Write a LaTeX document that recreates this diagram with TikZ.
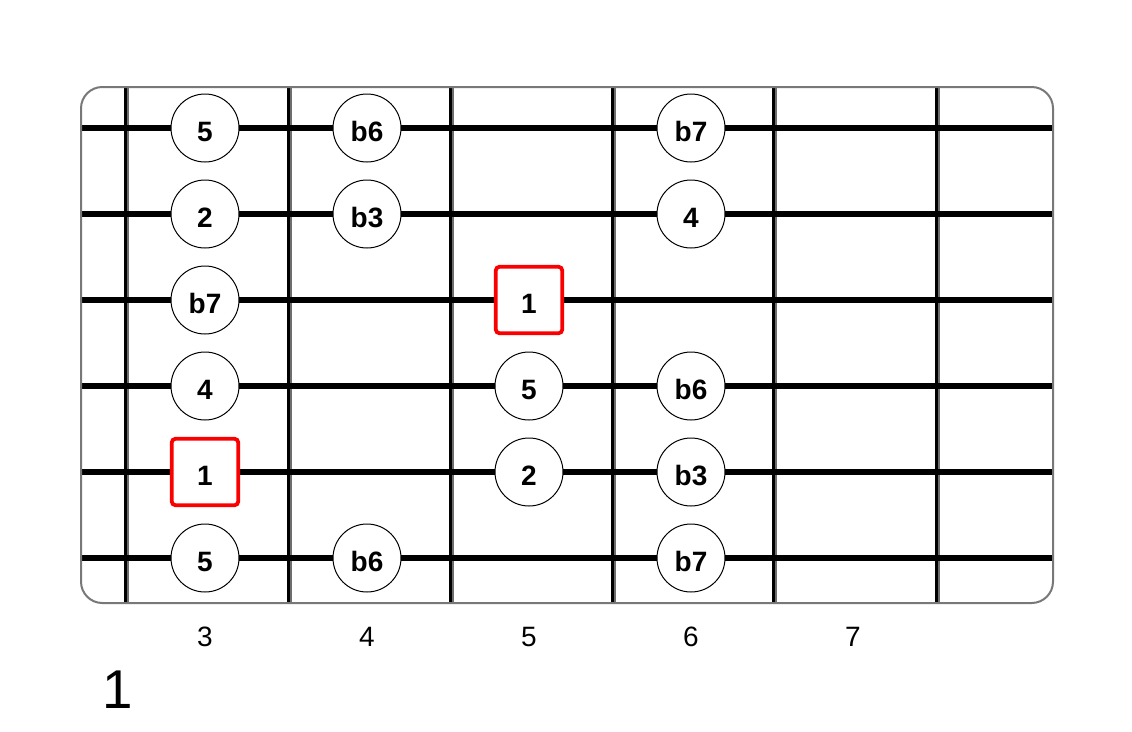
\documentclass[tikz,border=0pt]{standalone}
\usepackage{fontspec}
\setmainfont{Liberation Sans}
\definecolor{bordergray}{RGB}{120,120,120}
\definecolor{fretgray}{RGB}{110,110,110}
\definecolor{rootred}{RGB}{250,0,0}
\begin{document}
\begin{tikzpicture}[x=0.75pt,y=-0.75pt,
  note/.style={circle,draw=black,line width=0.75pt,fill=white,minimum size=51pt,inner sep=0pt,text height=19.5pt,text depth=0pt,font=\fontsize{21}{23}\selectfont\bfseries},
  rootnote/.style={rectangle,rounded corners=3pt,draw=rootred,line width=2.8pt,fill=white,minimum size=50pt,inner sep=0pt,text height=19.5pt,text depth=0pt,font=\fontsize{21}{23}\selectfont\bfseries},
  stringline/.style={line width=4.2pt,black},
  fretline/.style={line width=2.2pt,black},
  fretshade/.style={line width=1.5pt,fretgray},
  fretnum/.style={font=\fontsize{21}{23}\selectfont},
  board/.style={draw=bordergray,line width=1.5pt,rounded corners=16pt}]
\useasboundingbox (0,0) rectangle (1132,732);
\fill[white] (0,0) rectangle (1132,732);
% frets
\foreach \i/\x in {1/125.5,2/288.5,3/450.5,4/612.5,5/773.5,6/936.5}{
  \coordinate (ft\i) at (\x,88);
  \coordinate (fb\i) at (\x,602);
  \coordinate (gt\i) at (\x+2.5,88);
  \coordinate (gb\i) at (\x+2.5,602);
  \draw[fretshade] (gt\i) -- (gb\i);
  \draw[fretline] (ft\i) -- (fb\i);
}
% strings
\foreach \i/\y in {1/128,2/214,3/300,4/386,5/472,6/558}{
  \coordinate (sl\i) at (81,\y);
  \coordinate (sr\i) at (1053,\y);
  \draw[stringline] (sl\i) -- (sr\i);
}
\draw[board] (81,87) rectangle (1053,603);
% notes
\node[note] (n1a) at (205,128) {5};
\node[note] (n1b) at (367,128) {b6};
\node[note] (n1c) at (691,128) {b7};
\node[note] (n2a) at (205,214) {2};
\node[note] (n2b) at (367,214) {b3};
\node[note] (n2c) at (691,214) {4};
\node[note] (n3a) at (205,300) {b7};
\node[rootnote] (n3b) at (529,300) {1};
\node[note] (n4a) at (205,386) {4};
\node[note] (n4b) at (529,386) {5};
\node[note] (n4c) at (691,386) {b6};
\node[rootnote] (n5a) at (205,472) {1};
\node[note] (n5b) at (529,472) {2};
\node[note] (n5c) at (691,472) {b3};
\node[note] (n6a) at (205,558) {5};
\node[note] (n6b) at (367,558) {b6};
\node[note] (n6c) at (691,558) {b7};
% fret numbers
\node[fretnum] (l3) at (205,637) {3};
\node[fretnum] (l4) at (367,637) {4};
\node[fretnum] (l5) at (529,637) {5};
\node[fretnum] (l6) at (691,637) {6};
\node[fretnum] (l7) at (853,637) {7};
\node[font=\fontsize{41}{44}\selectfont] (pos) at (118,690) {1};
\end{tikzpicture}
\end{document}
